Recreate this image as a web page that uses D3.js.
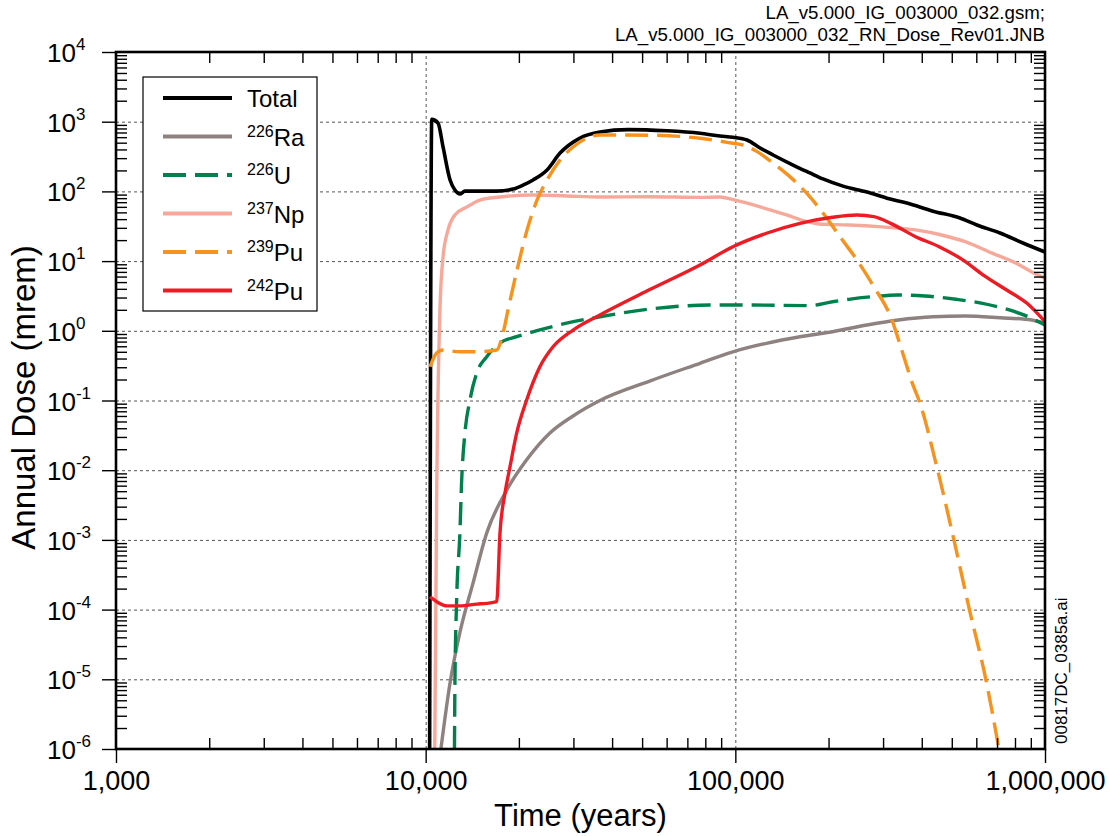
<!DOCTYPE html>
<html>
<head>
<meta charset="utf-8">
<script src="https://cdn.jsdelivr.net/npm/d3@7"></script>
<style>
  body { margin: 0; background: #fff; }
  svg text { font-family: "Liberation Sans", Arial, sans-serif; fill: #000; }
  .grid line { stroke: #555; stroke-width: 1; stroke-dasharray: 3,3; }
  .grid path, .ticks path { display: none; }
  .ticks line { stroke: #000; stroke-width: 1.4; }
  .ticks text { font-size: 27px; }
  .line { fill: none; stroke-linejoin: round; stroke-linecap: butt; }
</style>
</head>
<body>
<div id="chart"></div>
<script>
// tick values / labels
var xTicks = [1000, 10000, 100000, 1000000];
var xTickLabels = ["1,000", "10,000", "100,000", "1,000,000"];
var yExponents = [4, 3, 2, 1, 0, -1, -2, -3, -4, -5, -6];

var headerLines = ["LA_v5.000_IG_003000_032.gsm;", "LA_v5.000_IG_003000_032_RN_Dose_Rev01.JNB"];

// series: [years, mrem]
var totalDose = [[10300,1e-6],[10460,1080],[10960,960],[11380,434],[11990,146],[12430,105],[12900,92],[13390,101],[14650,101],[16990,101],[19140,108],[20620,123],[22230,146],[24660,203],[27160,355],[31500,583],[36540,711],[45000,770],[60000,740],[76900,682],[89200,624],[98200,597],[109100,546],[120200,420],[132400,333],[153600,239],[174200,184],[191900,151],[222700,119],[266200,98],[308800,80],[358100,68],[434700,52],[531300,41.5],[602500,33],[715600,25.3],[849000,18.2],[1000000,13.5]];
var ra226 = [[11200,1e-6],[11990,8.9e-6],[12900,4.7e-5],[14220,2.4e-4],[15750,1.26e-3],[18280,5.2e-3],[21190,0.0141],[25190,0.0342],[29920,0.060],[36540,0.100],[52900,0.19],[76900,0.342],[98200,0.50],[126000,0.662],[161700,0.822],[206000,0.97],[266000,1.21],[336000,1.43],[434700,1.59],[552000,1.63],[715600,1.54],[906000,1.43],[1000000,1.28]];
var u226 = [[12390,1e-6],[12430,8.9e-6],[12590,1.38e-4],[12900,1.26e-3],[13060,6.6e-3],[13390,0.0342],[13900,0.1016],[14620,0.248],[15750,0.425],[17380,0.668],[19680,0.822],[23380,1.03],[28520,1.29],[36560,1.59],[52900,2.05],[82700,2.34],[111000,2.34],[174200,2.30],[206000,2.61],[232700,2.83],[275800,3.08],[336000,3.27],[409000,3.16],[516000,2.83],[628000,2.48],[767000,1.99],[906000,1.51],[1000000,1.21]];
var np237 = [[10700,1e-6],[10850,3.7e-3],[11120,2.0],[11380,11.5],[11810,28],[12430,46],[13600,60],[14970,75],[17360,83],[22230,89],[28590,86],[36540,83],[52900,84],[76900,82],[89200,83],[98200,76],[120200,60],[146300,46],[169600,37],[186500,34],[232700,33],[296800,31],[382000,28],[463000,23.7],[552000,19],[675000,13],[804000,9.4],[906000,7.0],[1000000,5.7]];
var pu239 = [[10330,0.305],[10850,0.48],[11380,0.53],[12900,0.50],[14620,0.50],[16960,0.53],[17780,0.93],[18450,1.99],[19720,7.45],[21250,27.9],[22900,75.3],[24660,146],[27160,282],[29920,434],[33200,583],[36540,644],[52900,640],[76900,578],[98200,490],[106000,463],[117600,372],[132400,255],[150000,163],[169600,95],[191900,49],[217700,22.4],[246900,10.4],[280000,4.3],[317500,1.58],[350100,0.425],[374000,0.17],[392000,0.1],[450000,0.01],[508000,1e-3],[570000,1e-4],[644000,1e-5],[710000,1e-6]];
var pu242 = [[10330,1.53e-4],[10850,1.3e-4],[11710,1.13e-4],[12900,1.13e-4],[14620,1.2e-4],[15750,1.23e-4],[16960,1.3e-4],[17380,1.26e-3],[18040,4.7e-3],[18720,0.0112],[19680,0.0342],[21190,0.1016],[23380,0.305],[25780,0.59],[29920,1.026],[36540,1.69],[52900,3.9],[76900,8.8],[98200,16.1],[126000,25.1],[161700,34.8],[206000,42.5],[246900,45.8],[280000,43.4],[317500,34.8],[382000,22.4],[455000,16.1],[543000,10.4],[632000,6.3],[752000,3.85],[875000,2.48],[1000000,1.35]];

var seriesNames = ["Total", "Ra", "U", "Np", "Pu", "Pu"];
var seriesMass = ["", "226", "226", "237", "239", "242"];
var seriesColors = ["#000000", "#8e8280", "#00804c", "#f6a99b", "#f7921e", "#ed1c24"];
var seriesDash = [null, null, "23,9", null, "23,9", null];
var seriesWidth = [3.6, 3.4, 3.4, 3.4, 3.4, 3.4];
var seriesData = [totalDose, ra226, u226, np237, pu239, pu242];

var width = 1110, height = 836;
var margins = { top: 52, right: 65, bottom: 87, left: 116 };
var plotW = width - margins.left - margins.right;
var plotH = height - margins.top - margins.bottom;

var svg = d3.select("#chart").append("svg")
  .attr("width", width)
  .attr("height", height);

var chart = svg.append("g")
  .attr("transform", "translate(" + margins.left + "," + margins.top + ")");

var xScale = d3.scaleLog().domain([1000, 1000000]).range([0, plotW]);
var yScale = d3.scaleLog().domain([1e-6, 1e4]).range([plotH, 0]);

var yTicks = yExponents.map(e => Math.pow(10, e));

// minor ticks 2..9 per decade
var minorX = [];
[3, 4, 5].forEach(function(e) {
  for (var k = 2; k <= 9; k++) minorX.push(k * Math.pow(10, e));
});
var minorY = [];
for (var e = -6; e < 4; e++) {
  for (var k = 2; k <= 9; k++) minorY.push(k * Math.pow(10, e));
}

// grid
chart.append("g")
  .attr("class", "grid")
  .attr("transform", "translate(0," + plotH + ")")
  .call(d3.axisBottom(xScale).tickValues([10000, 100000]).tickSize(-plotH).tickFormat(""));

chart.append("g")
  .attr("class", "grid")
  .call(d3.axisLeft(yScale).tickValues(yTicks.slice(1, -1)).tickSize(-plotW).tickFormat(""));

// lines
svg.append("defs").append("clipPath").attr("id", "plot-clip")
  .append("rect").attr("width", plotW).attr("height", plotH);

var line = d3.line()
  .x(d => xScale(d[0]))
  .y(d => yScale(d[1]))
  .curve(d3.curveMonotoneX);

chart.append("g")
  .attr("clip-path", "url(#plot-clip)")
  .selectAll("path")
  .data(seriesData)
  .enter()
  .append("path")
  .attr("class", "line")
  .attr("stroke", (d, i) => seriesColors[i])
  .attr("stroke-width", (d, i) => seriesWidth[i])
  .attr("stroke-dasharray", (d, i) => seriesDash[i])
  .attr("d", line);

// minor ticks, inward on all four sides
chart.append("g").attr("class", "ticks")
  .attr("transform", "translate(0," + plotH + ")")
  .call(d3.axisBottom(xScale).tickValues(minorX).tickSize(-11).tickFormat(""));
chart.append("g").attr("class", "ticks")
  .call(d3.axisTop(xScale).tickValues(minorX).tickSize(-11).tickFormat(""));
chart.append("g").attr("class", "ticks")
  .call(d3.axisLeft(yScale).tickValues(minorY).tickSize(-11).tickFormat(""));
chart.append("g").attr("class", "ticks")
  .attr("transform", "translate(" + plotW + ",0)")
  .call(d3.axisRight(yScale).tickValues(minorY).tickSize(-11).tickFormat(""));

// major ticks, outward, with labels
chart.append("g").attr("class", "ticks")
  .attr("transform", "translate(0," + plotH + ")")
  .call(d3.axisBottom(xScale).tickValues(xTicks).tickSize(14).tickPadding(8)
    .tickFormat((d, i) => xTickLabels[i]));

chart.append("g").attr("class", "ticks")
  .call(d3.axisLeft(yScale).tickValues(yTicks).tickSize(14).tickFormat(""));

// y labels as 10 with superscript exponent
var yLab = chart.append("g").selectAll("text")
  .data(yExponents)
  .enter()
  .append("text")
  .attr("x", 47 - margins.left)
  .attr("y", d => yScale(Math.pow(10, d)) + 10)
  .style("font-size", "26px");
yLab.append("tspan").text("10");
yLab.append("tspan")
  .attr("dy", -12)
  .style("font-size", "17px")
  .text(d => d < 0 ? "-" + (-d) : d);

// frame
chart.append("rect")
  .attr("width", plotW)
  .attr("height", plotH)
  .attr("fill", "none")
  .attr("stroke", "#000")
  .attr("stroke-width", 2.6);

// legend
var legend = chart.append("g")
  .attr("transform", "translate(" + (143 - margins.left) + "," + (77 - margins.top) + ")");

legend.append("rect")
  .attr("width", 174)
  .attr("height", 234)
  .attr("fill", "#fff")
  .attr("stroke", "#000")
  .attr("stroke-width", 1.2);

var item = legend.selectAll("g.item")
  .data(seriesNames)
  .enter()
  .append("g")
  .attr("class", "item")
  .attr("transform", (d, i) => "translate(0," + (21 + i * 38.5) + ")");

item.append("line")
  .attr("x1", 20).attr("x2", 89)
  .attr("stroke", (d, i) => seriesColors[i])
  .attr("stroke-width", 4)
  .attr("stroke-dasharray", (d, i) => seriesDash[i]);

var itemText = item.append("text")
  .attr("x", 104)
  .attr("y", 9)
  .style("font-size", "24px");
itemText.append("tspan")
  .attr("dy", (d, i) => seriesMass[i] ? -9 : 0)
  .style("font-size", "16px")
  .text((d, i) => seriesMass[i]);
itemText.append("tspan")
  .attr("dy", (d, i) => seriesMass[i] ? 9 : 0)
  .text(d => d);

// axis titles
svg.append("text")
  .attr("x", margins.left + plotW / 2)
  .attr("y", 826)
  .attr("text-anchor", "middle")
  .style("font-size", "31px")
  .text("Time (years)");

svg.append("text")
  .attr("transform", "translate(35," + (margins.top + plotH / 2 - 3) + ") rotate(-90)")
  .attr("text-anchor", "middle")
  .style("font-size", "33px")
  .text("Annual Dose (mrem)");

// header and file tag
svg.append("g").selectAll("text")
  .data(headerLines)
  .enter()
  .append("text")
  .attr("x", margins.left + plotW)
  .attr("y", (d, i) => 19 + i * 22)
  .attr("text-anchor", "end")
  .style("font-size", "18.7px")
  .text(d => d);

svg.append("text")
  .attr("transform", "translate(1067,744) rotate(-90)")
  .style("font-size", "17px")
  .text("00817DC_0385a.ai");
</script>
</body>
</html>
